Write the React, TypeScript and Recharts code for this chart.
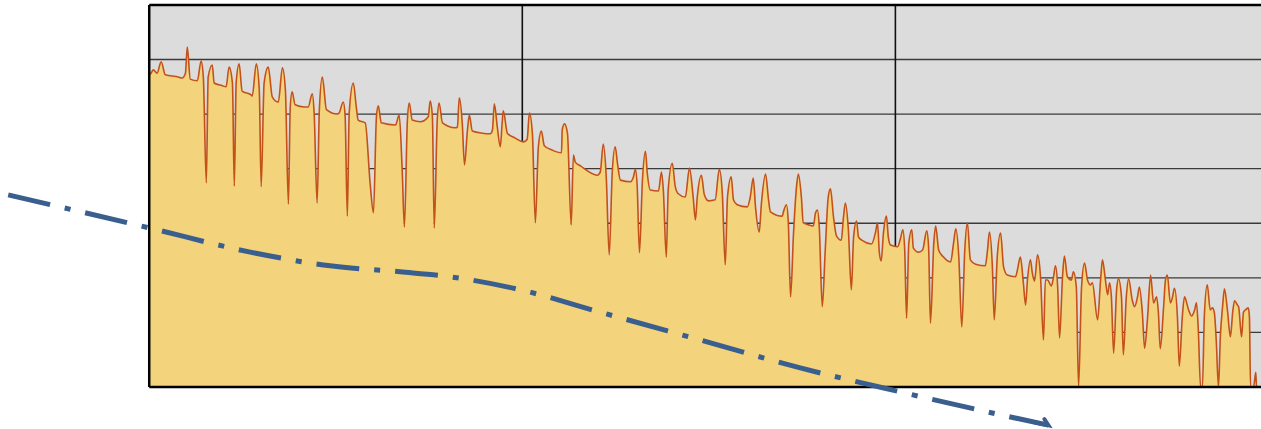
import {
  ComposedChart,
  Area,
  Line,
  XAxis,
  YAxis,
  ReferenceArea,
  ReferenceLine,
} from 'recharts';

// measured trace (time units, level units)
const WAVE_T = [
  0, 0.5, 1.1, 2.1, 3.2, 4.3, 7.8, 8.8, 9.7, 10.2,
  11.0, 12.9, 13.9, 14.5, 15.3, 15.8, 16.9, 17.4, 19.6, 20.6,
  21.4, 22.3, 22.8, 23.3, 24.1, 24.9, 27.3, 27.6, 28.7, 29.5,
  30.0, 30.8, 31.9, 33.0, 34.6, 35.7, 36.5, 37.3, 37.8, 38.3,
  39.1, 41.6, 42.6, 43.7, 44.2, 45.0, 45.6, 46.4, 47.5, 50.4,
  50.9, 52.0, 52.5, 53.1, 53.6, 54.7, 55.5, 56.0, 57.9, 59.2,
  60.1, 60.9, 61.4, 62.2, 66.0, 67.0, 67.8, 68.4, 69.2, 69.7,
  70.5, 72.7, 74.8, 75.3, 75.9, 76.4, 77.2, 77.7, 78.6, 82.0,
  82.6, 83.1, 83.9, 84.5, 85.3, 85.8, 86.6, 89.3, 91.4, 92.0,
  92.5, 93.3, 94.1, 94.6, 94.9, 96.0, 98.1, 100.3, 101.3, 101.9,
  102.7, 103.5, 104.3, 105.1, 105.9, 108.0, 110.5, 110.7, 111.3, 112.1,
  113.1, 113.7, 114.2, 115.6, 120.1, 120.9, 121.7, 122.5, 123.3, 124.1,
  124.9, 125.5, 126.3, 129.0, 129.8, 130.3, 130.8, 131.4, 132.2, 133.0,
  133.5, 134.3, 136.5, 137.3, 137.8, 138.6, 139.1, 140.2, 141.0, 141.8,
  143.7, 144.8, 145.8, 146.4, 146.9, 148.0, 148.8, 149.9, 151.7, 152.8,
  153.6, 154.4, 155.0, 156.0, 156.6, 157.6, 160.3, 161.1, 161.9, 162.5,
  163.5, 164.1, 165.2, 166.0, 166.5, 169.7, 170.0, 170.8, 171.3, 171.9,
  172.7, 173.5, 174.0, 174.8, 175.3, 176.7, 178.0, 178.6, 179.1, 179.6,
  180.4, 181.2, 182.0, 182.6, 183.4, 184.2, 185.5, 186.1, 186.6, 187.4,
  188.2, 188.8, 189.6, 190.1, 191.2, 193.6, 194.7, 195.2, 195.7, 196.2,
  196.8, 197.6, 198.1, 198.7, 200.6, 201.4, 202.0, 202.5, 203.0, 203.6,
  204.4, 204.8, 206.2, 207.3, 208.4, 208.9, 209.4, 210.3, 210.8, 211.6,
  212.9, 214.8, 215.6, 216.2, 217.0, 217.8, 218.6, 219.3, 220.1, 221.5,
  224.1, 224.7, 225.2, 226.0, 226.5, 227.3, 228.2, 229.0, 230.0, 232.2,
  232.7, 233.5, 234.3, 234.9, 235.4, 236.2, 236.7, 237.3, 238.1, 238.9,
  239.7, 240.2, 240.8, 241.8, 242.4, 242.9, 243.5, 244.0, 244.8, 245.3,
  246.1, 247.2, 247.7, 248.5, 249.1, 249.9, 250.7, 251.5, 252.3, 252.8,
  254.2, 255.0, 255.5, 256.3, 256.9, 257.4, 257.9, 258.5, 259.3, 259.8,
  260.6, 261.1, 261.9, 262.5, 263.5, 264.1, 264.9, 265.4, 266.2, 266.8,
  267.6, 268.4, 269.2, 270.0, 270.5, 271.0, 271.9, 272.4, 272.9, 273.7,
  274.3, 274.8, 275.6, 276.1, 276.9, 277.5, 278.6, 279.4, 280.2, 280.7,
  281.2, 281.8, 282.3, 282.8, 283.6, 284.4, 285.0, 285.5, 286.0, 286.6,
  287.1, 287.7, 288.2, 289.0, 289.8, 290.4, 290.9, 291.7, 292.0, 292.8,
  293.3, 293.8, 294.6, 294.9, 295.2, 296.0, 296.6, 296.8, 300,
];

const WAVE_LEVEL = [
  57.2, 57.5, 58.1, 57.5, 59.6, 57.2, 56.8, 56.6, 57.5, 62.3,
  56.4, 56.1, 59.7, 56.8, 37.4, 56.8, 59.0, 55.7, 55.2, 55.0,
  58.6, 55.7, 36.8, 55.7, 59.2, 54.2, 53.5, 53.3, 59.2, 54.4,
  36.7, 55.7, 58.6, 53.1, 52.2, 58.5, 54.4, 33.5, 51.3, 54.1,
  51.7, 51.3, 51.3, 53.7, 50.2, 33.7, 50.8, 56.8, 50.8, 50.0,
  50.2, 52.2, 49.8, 31.3, 50.2, 55.7, 51.3, 48.9, 48.4, 37.4,
  31.9, 49.5, 51.5, 48.4, 48.0, 49.8, 39.8, 29.3, 48.9, 52.0,
  48.9, 48.6, 49.5, 52.4, 49.5, 29.1, 48.9, 52.0, 48.4, 47.5,
  47.6, 53.0, 48.4, 40.7, 47.1, 49.8, 46.9, 46.5, 46.4, 47.1,
  51.9, 47.6, 44.0, 48.4, 50.6, 46.5, 45.6, 44.9, 45.4, 50.2,
  46.5, 30.1, 44.0, 46.9, 44.2, 43.4, 42.9, 47.1, 48.2, 46.5,
  29.7, 42.5, 41.2, 40.5, 38.8, 39.4, 44.5, 38.5, 24.2, 39.2,
  44.0, 41.0, 37.9, 37.6, 38.5, 39.9, 36.7, 24.6, 37.9, 43.2,
  39.2, 36.1, 35.9, 39.4, 36.1, 23.8, 36.1, 41.0, 36.7, 35.4,
  34.8, 40.1, 34.8, 30.6, 34.8, 38.8, 35.2, 34.1, 34.3, 39.9,
  35.6, 22.4, 34.8, 38.5, 34.3, 33.4, 33.0, 34.8, 38.3, 33.0,
  28.4, 33.7, 39.0, 34.3, 32.1, 31.3, 32.1, 33.4, 30.1, 16.5,
  28.2, 36.7, 39.0, 34.8, 30.1, 29.7, 29.5, 31.9, 32.4, 29.3,
  14.7, 25.1, 34.8, 36.3, 31.2, 27.7, 26.9, 31.2, 33.7, 28.8,
  17.8, 27.5, 30.4, 27.5, 26.8, 26.2, 28.4, 30.1, 24.6, 23.1,
  28.2, 31.3, 27.5, 26.0, 25.7, 27.3, 28.8, 25.1, 12.6, 26.4,
  28.8, 25.5, 24.7, 25.1, 28.6, 25.7, 11.7, 26.4, 29.5, 25.1,
  23.8, 22.9, 26.4, 29.0, 23.8, 11.0, 25.1, 30.1, 23.3, 22.5,
  22.2, 25.1, 28.4, 22.0, 12.3, 23.8, 28.2, 22.0, 20.5, 20.2,
  21.4, 23.8, 19.1, 15.0, 19.6, 23.3, 20.9, 19.4, 24.2, 20.2,
  8.6, 19.6, 19.6, 18.5, 20.2, 22.2, 18.3, 9.0, 20.2, 24.0,
  20.2, 19.6, 21.1, 18.3, 0, 18.3, 22.7, 19.6, 18.7, 19.1,
  12.3, 19.6, 23.3, 19.6, 16.9, 19.1, 16.5, 6.2, 17.8, 19.8,
  16.5, 5.9, 16.5, 19.8, 15.9, 14.7, 16.5, 18.3, 13.6, 7.1,
  12.8, 20.5, 15.4, 16.5, 13.6, 7.0, 14.7, 19.6, 20.5, 15.4,
  16.5, 18.1, 12.8, 3.8, 12.8, 16.5, 14.1, 13.0, 14.1, 15.4,
  10.4, 0, 0, 12.8, 18.7, 14.1, 14.5, 13.6, 8.6, 0,
  9.2, 14.7, 18.0, 14.1, 9.2, 13.6, 15.8, 15.0, 14.7, 9.2,
  13.7, 14.1, 14.5, 12.8, 0, 0, 2.7, 0, 0,
];

// dash-dot guide curve, runs past the frame on both ends
const GUIDE_T = [-37.8, 0.3, 27.1, 48.5, 67.3, 79.4, 99.5, 120.9, 147.7, 174.5, 201.3, 228.2, 241.0];
const GUIDE_LEVEL = [35.2, 29.1, 24.7, 22.2, 21.1, 20.3, 17.8, 13.7, 8.6, 3.5, -0.9, -5.1, -7.0];

const H_GRID = [10, 20, 30, 40, 50, 60];
const V_GRID = [100, 200];
const FRAME_END = 298;
const FRAME_TOP = 70;

const waveData = WAVE_T.map((t, i) => ({ t, v: WAVE_LEVEL[i] }));
const guideData = GUIDE_T.map((t, i) => ({ t, g: GUIDE_LEVEL[i] }));

function ArrowTip(props: any) {
  const { cx, cy, index } = props;
  if (index !== GUIDE_T.length - 1 || cx == null) return <g key={`d${index}`} />;
  return (
    <path
      key={`d${index}`}
      d={`M${cx - 14},${cy - 3} L${cx},${cy} L${cx - 4},${cy - 6}`}
      fill="none"
      stroke="#3a5f8f"
      strokeWidth={4}
      strokeLinecap="round"
    />
  );
}

export default function App() {
  return (
    <div style={{ position: 'absolute', left: 0, top: 0, width: 1261, height: 429, overflow: 'hidden', background: '#fff' }}>
      <ComposedChart width={1261} height={429} margin={{ top: 0, right: 0, bottom: 0, left: 0 }}>
        <XAxis type="number" dataKey="t" domain={[-40, 298]} allowDataOverflow hide />
        <YAxis type="number" domain={[-7.7, 70.9]} allowDataOverflow hide />
        <ReferenceArea x1={0} x2={FRAME_END} y1={0} y2={FRAME_TOP} fill="#dcdcdc" fillOpacity={1} stroke="none" zIndex={-300} />
        {H_GRID.map((y) => (
          <ReferenceLine key={`h${y}`} segment={[{ x: 0, y }, { x: FRAME_END, y }]} stroke="#3a3a3a" strokeWidth={1.3} zIndex={-200} />
        ))}
        {V_GRID.map((x) => (
          <ReferenceLine key={`v${x}`} segment={[{ x, y: 0 }, { x, y: FRAME_TOP }]} stroke="#111" strokeWidth={1.6} zIndex={-200} />
        ))}
        <Area
          data={waveData}
          dataKey="v"
          type="monotoneX"
          baseValue={0}
          stroke="#c4511a"
          strokeWidth={1.6}
          fill="#f3d37b"
          fillOpacity={1}
          dot={false}
          activeDot={false}
          isAnimationActive={false}
          zIndex={100}
        />
        <ReferenceLine segment={[{ x: 0, y: FRAME_TOP }, { x: FRAME_END, y: FRAME_TOP }]} stroke="#000" strokeWidth={2.5} zIndex={500} />
        <ReferenceLine segment={[{ x: 0, y: 0 }, { x: 0, y: FRAME_TOP }]} stroke="#000" strokeWidth={2.5} zIndex={500} />
        <ReferenceLine segment={[{ x: 0, y: 0 }, { x: FRAME_END, y: 0 }]} stroke="#000" strokeWidth={2.5} zIndex={500} />
        <Line
          data={guideData}
          dataKey="g"
          type="monotone"
          stroke="#3a5f8f"
          strokeWidth={5}
          strokeDasharray="43 15 6 15"
          dot={ArrowTip}
          activeDot={false}
          isAnimationActive={false}
          zIndex={600}
        />
      </ComposedChart>
    </div>
  );
}
